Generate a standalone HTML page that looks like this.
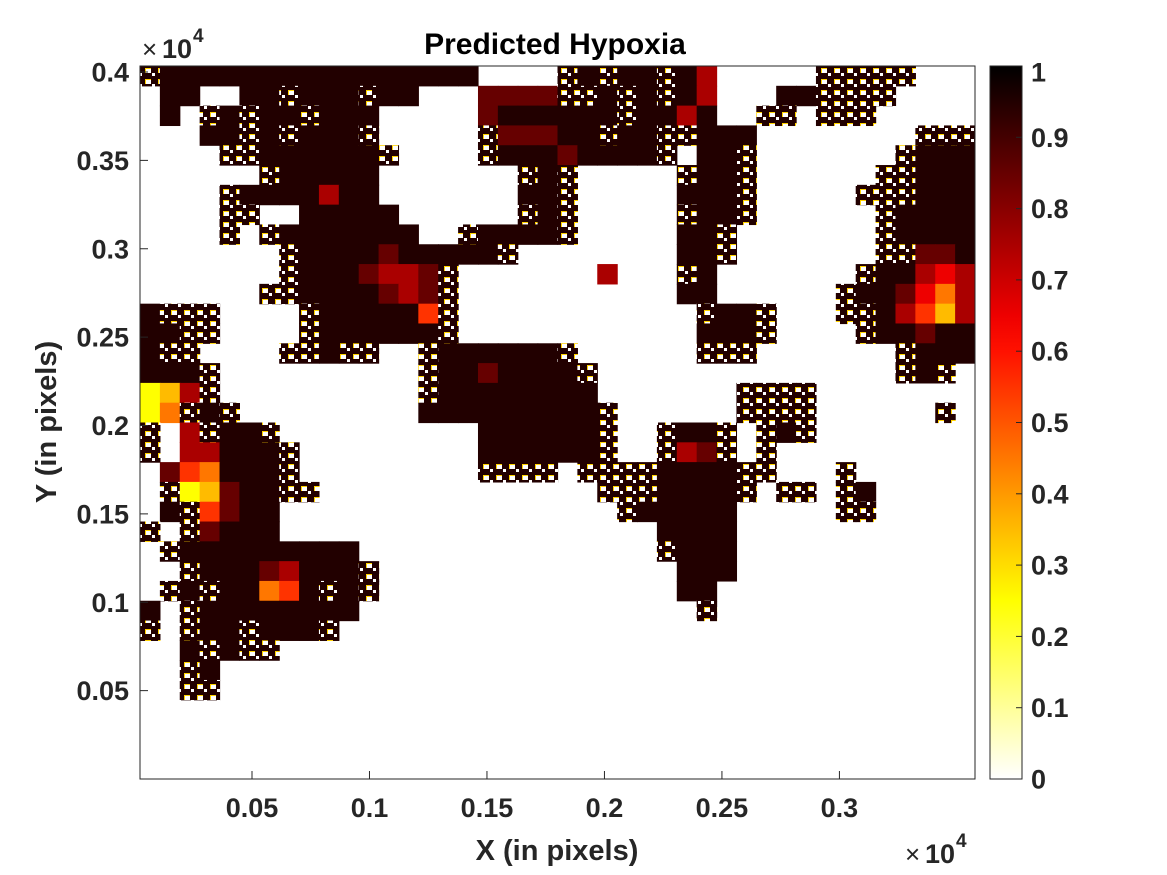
<!DOCTYPE html>
<html><head><meta charset="utf-8"><title>Predicted Hypoxia</title>
<style>
html,body{margin:0;padding:0;background:#fff;}
svg{display:block;font-family:"Liberation Sans",Arial,sans-serif;font-weight:bold;}
</style></head>
<body>
<svg id="chart" width="1167" height="875" viewBox="0 0 1167 875" xmlns="http://www.w3.org/2000/svg">
<defs id="defs">
<linearGradient id="cbgrad" x1="0" y1="1" x2="0" y2="0"></linearGradient>
<clipPath id="plotclip"><rect x="140" y="66" width="835" height="713"/></clipPath>
</defs>
<rect x="0" y="0" width="1167" height="875" fill="#fff"/>
<g id="heat" clip-path="url(#plotclip)"></g>
<g id="axes"></g>
<text x="555" y="54" text-anchor="middle" font-size="30" fill="#000">Predicted Hypoxia</text>
<text x="557" y="860" text-anchor="middle" font-size="29" fill="#262626">X (in pixels)</text>
<text transform="translate(56,422) rotate(-90)" text-anchor="middle" font-size="29" fill="#262626">Y (in pixels)</text>
<g fill="#262626">
<text x="142" y="58" font-size="26" font-weight="normal">×</text><text x="162" y="58" font-size="27">10</text><text x="193" y="42" font-size="19">4</text>
</g>
<g fill="#262626">
<text x="905" y="863" font-size="26" font-weight="normal">×</text><text x="925" y="863" font-size="27">10</text><text x="956" y="847" font-size="19">4</text>
</g>
<g id="colorbar"></g>
</svg>
<script>
// ---- data ----
const xTicks = [0.05, 0.1, 0.15, 0.2, 0.25, 0.3];
const xTickLabels = ["0.05", "0.1", "0.15", "0.2", "0.25", "0.3"];
const yTicks = [0.05, 0.1, 0.15, 0.2, 0.25, 0.3, 0.35, 0.4];
const yTickLabels = ["0.05", "0.1", "0.15", "0.2", "0.25", "0.3", "0.35", "0.4"];
const cbTicks = [0, 0.1, 0.2, 0.3, 0.4, 0.5, 0.6, 0.7, 0.8, 0.9, 1];
const cbTickLabels = ["0", "0.1", "0.2", "0.3", "0.4", "0.5", "0.6", "0.7", "0.8", "0.9", "1"];
// grid rows (top to bottom), 42 columns each; '.' = no value, digit = level, letter = speckled level
const gridRows = [
"i999999999 9999999... .i9i99i97. ....iiiii. ..",
".99..99i99 9i99...888 8ii9i9i97. ..99iiii.. ..",
".9.i9i99i9 99.....899 9999i9979. .ii.iii... ..",
"...99i9i99 9i.....i88 899i99ii99 9........i ii",
"....ii9999 99i....i99 989999i.99 i.......i9 99",
"......i999 99.......i 9i.....i99 i......ii9 99",
"....i99997 99.......9 9i.....999 i.....iii9 99",
"....ii..99 999......i 9i.....i99 i......i99 99",
"....i.i999 9999..i999 9i.....99i .......i99 99",
".......i99 99899999i. .......99i .......ii8 89",
".......i99 98778i.... ...7...i9. ......i997 67",
"......ii99 99878i.... .......99. .....i9986 47",
"9iii....i9 99995i.... ........i9 9i...ii975 37",
"99ii....i9 99999i.... ........99 9i....i998 99",
"9ii....ii9 ii..i99999 9i......ii i.......i9 99",
"999i...... ....i99899 99i....... ........i9 i.",
"237i...... ....i99999 999....... iiii...... ..",
"24i9i..... ....999999 999i...... iiii...... i.",
"i.7i99i... .......999 999i..i99i .i9i...... ..",
"i.77999i.. .......999 999i..i78i .i........ ..",
".854999i.. .......iii i.iiii9999 ii...i.... ..",
".i23899ii. .......... ...iii9999 i.ii.i9... ..",
".9i5899... .......... ....i99999 .....ii... ..",
"i.i8999... .......... ......9999 .......... ..",
".i99999999 9......... ......i999 .......... ..",
"..i9998799 9i........ .......999 .......... ..",
".i9i99459i 9i........ .......99. .......... ..",
"9.i9999999 9......... ........i. .......... ..",
"i.i99i999i .......... .......... .......... ..",
"..9i9ii... .......... .......... .......... ..",
"..i9...... .......... .......... .......... ..",
"..ii...... .......... .......... .......... ..",
".......... .......... .......... .......... ..",
".......... .......... .......... .......... ..",
".......... .......... .......... .......... ..",
".......... .......... .......... .......... .."
];

const NS = "http://www.w3.org/2000/svg";
const PL = 140, PR = 975, PT = 66, PB = 779;
const xMin = 0.00234, xMax = 0.3577, yMin = 0.0, yMax = 0.4034;
function xScale(v){ return PL + (v - xMin) / (xMax - xMin) * (PR - PL); }
function yScale(v){ return PB - (v - yMin) / (yMax - yMin) * (PB - PT); }
function cmap(v){ // flipped MATLAB "hot"
  const t = 1 - Math.max(0, Math.min(1, v));
  const r = Math.min(1, t / 0.375);
  const g = Math.max(0, Math.min(1, (t - 0.375) / 0.375));
  const b = Math.max(0, Math.min(1, (t - 0.75) / 0.25));
  return "rgb(" + Math.round(r*255) + "," + Math.round(g*255) + "," + Math.round(b*255) + ")";
}
function mk(tag, attrs, parent){
  const e = document.createElementNS(NS, tag);
  for (const k in attrs) e.setAttribute(k, attrs[k]);
  parent.appendChild(e); return e;
}

// speckle patterns (dark with white holes and bright fringes)
const defs = document.getElementById("defs");
function speckle(level){
  const id = "spk" + level;
  if (document.getElementById(id)) return id;
  const p = mk("pattern", {id: id, patternUnits: "userSpaceOnUse", width: 13, height: 11}, defs);
  mk("rect", {x: 0, y: 0, width: 13, height: 11, fill: cmap(level)}, p);
  mk("rect", {x: 2, y: 2, width: 6, height: 5, fill: "#ffd200"}, p);
  mk("rect", {x: 3, y: 3, width: 5, height: 4, fill: "#fff"}, p);
  mk("rect", {x: 9, y: 7, width: 3, height: 3, fill: "#fff"}, p);
  return id;
}

// ---- heatmap ----
const heat = document.getElementById("heat");
const rows = gridRows.map(s => s.replace(/ /g, ""));
const nRows = rows.length, nCols = 42;
const cw = (PR - PL) / nCols, ch = (PB - PT) / nRows;
rows.forEach((row, r) => {
  for (let c = 0; c < nCols; c++) {
    const chr = row[c] || ".";
    if (chr === ".") continue;
    let fill;
    if (chr >= "0" && chr <= "9") { fill = cmap((+chr) / 10 + 0.05); }
    else { fill = "url(#" + speckle((chr.charCodeAt(0) - 96) / 10 + 0.05) + ")"; }
    const rect = mk("rect", {x: (PL + c*cw).toFixed(2), y: (PT + r*ch).toFixed(2), width: (cw+0.6).toFixed(2), height: (ch+0.6).toFixed(2), fill: fill}, heat);
    
    
  }
});

// ---- axes ----
const axes = document.getElementById("axes");
const frame = mk("rect", {x: PL, y: PT, width: PR-PL, height: PB-PT, fill: "none", stroke: "#262626", "stroke-width": 1}, axes);


xTicks.forEach((v, i) => {
  const x = xScale(v);
  const tk = mk("line", {x1: x, y1: PB, x2: x, y2: PB-8, stroke: "#262626", "stroke-width": 1}, axes);
  
  
  const t = mk("text", {x: x, y: 817, "text-anchor": "middle", "font-size": 27, fill: "#262626"}, axes);
  t.textContent = xTickLabels[i];
  
  
});
yTicks.forEach((v, i) => {
  const y = yScale(v);
  const tk = mk("line", {x1: PL, y1: y, x2: PL+8, y2: y, stroke: "#262626", "stroke-width": 1}, axes);
  
  
  const t = mk("text", {x: 129, y: y + 9.5, "text-anchor": "end", "font-size": 27, fill: "#262626"}, axes);
  t.textContent = yTickLabels[i];
  
  
});

// ---- colorbar ----
const grad = document.getElementById("cbgrad");
for (let k = 0; k <= 20; k++) {
  mk("stop", {offset: (k/20).toFixed(3), "stop-color": cmap(k/20)}, grad);
}
const cb = document.getElementById("colorbar");
const CBL = 990, CBR = 1022, CBT = 66, CBB = 779;
function cbScale(v){ return CBB - v * (CBB - CBT); }
const cbRect = mk("rect", {x: CBL, y: CBT, width: CBR-CBL, height: CBB-CBT, fill: "url(#cbgrad)", stroke: "#262626", "stroke-width": 1}, cb);


cbTicks.forEach((v, i) => {
  const y = cbScale(v);
  const tk = mk("line", {x1: CBR, y1: y, x2: CBR-6, y2: y, stroke: "#262626", "stroke-width": 1}, cb);
  
  
  const ty = Math.max(y, 72);
  const t = mk("text", {x: 1031, y: ty + 9.5, "font-size": 27, fill: "#262626"}, cb);
  t.textContent = cbTickLabels[i];
  
  
});
</script>
</body></html>
